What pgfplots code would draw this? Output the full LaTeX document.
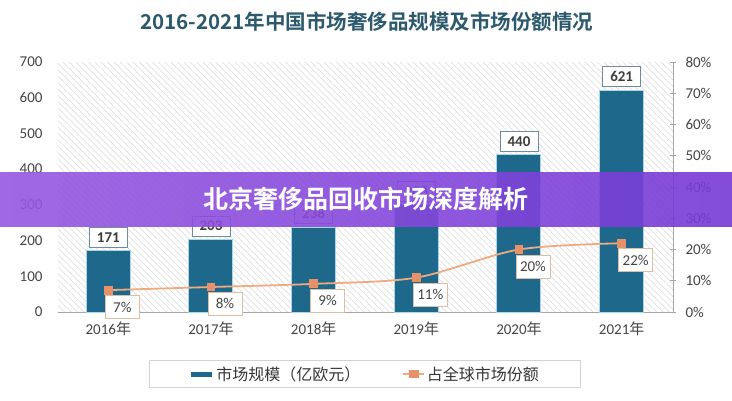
\documentclass[border=0pt]{standalone}
\usepackage{fontspec}
\setmainfont{Carlito}
\newfontfamily\cjk{Noto Sans CJK SC}
\newfontfamily\cjkb{Noto Sans CJK SC Bold}
\usepackage{pgfplots}
\pgfplotsset{compat=1.18}
\usetikzlibrary{patterns.meta}
\definecolor{barblue}{RGB}{30,104,140}
\definecolor{baredge}{RGB}{170,215,235}
\definecolor{lineor}{RGB}{240,170,128}
\definecolor{markor}{RGB}{230,145,105}
\definecolor{titlec}{RGB}{44,90,108}
\definecolor{txt}{RGB}{68,68,68}
\definecolor{boxblue}{RGB}{110,140,155}
\definecolor{boxor}{RGB}{220,190,165}
\begin{document}
\begin{tikzpicture}
\path[use as bounding box] (0,0) rectangle (732pt,400pt);
\begin{axis}[
    at={(58pt,88pt)}, anchor=south west,
    scale only axis, width=615pt, height=250pt,
    ybar, bar width=44pt,
    xmin=-0.49, xmax=5.5,
    ymin=0, ymax=700, ytick={0,100,...,700},
    xtick={0,...,5},
    xticklabels={2016{\cjk 年},2017{\cjk 年},2018{\cjk 年},2019{\cjk 年},2020{\cjk 年},2021{\cjk 年}},
    axis x line*=bottom, axis y line*=left,
    y axis line style={draw=none},
    x axis line style={gray!70, line width=0.8pt, -},
    major tick length=0pt,
    tick label style={font=\fontsize{15}{18}\selectfont, text=txt},
    yticklabel style={xshift=-12pt},
    xticklabel style={yshift=-6pt},
    /pgf/number format/assume math mode=true,
    axis background/.style={pattern={Lines[angle=-45,distance=4.5pt,line width=0.7pt]}, pattern color=gray!25},
    nodes near coords,
    every node near coord/.append style={font=\fontsize{15}{18}\selectfont\bfseries, text=txt!90!black,
        fill=white, draw=boxblue, line width=0.8pt, inner sep=2pt, minimum width=38pt, minimum height=20pt,
        anchor=south, yshift=3pt},
]
\addplot[fill=barblue, draw=baredge, line width=1pt] coordinates {(0,171) (1,203) (2,238) (3,300) (4,440) (5,621)};
\end{axis}
\begin{axis}[
    at={(58pt,88pt)}, anchor=south west,
    scale only axis, width=615pt, height=250pt,
    xmin=-0.49, xmax=5.5,
    ymin=0, ymax=80, ytick={0,10,...,80},
    axis y line*=right, axis x line=none,
    y axis line style={gray!70, line width=0.8pt, -},
    ytick style={gray!70, line width=0.8pt},
    major tick length=6pt, tick align=center,
    yticklabel={\pgfmathprintnumber{\tick}\%},
    tick label style={font=\fontsize{15}{18}\selectfont, text=txt},
    yticklabel style={xshift=6pt},
    /pgf/number format/assume math mode=true,
    nodes near coords={\pgfmathprintnumber{\pgfplotspointmeta}\%},
    every node near coord/.append style={font=\fontsize{15}{18}\selectfont, text=txt,
        fill=white, draw=boxor, line width=0.8pt, inner sep=2pt, minimum width=34pt, minimum height=23pt,
        anchor=north, xshift=14pt, yshift=-5pt},
    legend style={at={(0.499,-0.248)}, anchor=center, draw=gray!35, line width=0.6pt,
        font=\fontsize{16}{19}\selectfont\cjk, text=txt!80!black, inner xsep=40pt, inner ysep=4pt},
    legend columns=2,
    legend cell align=left,
    legend image post style={xscale=1.2},
    /tikz/every even column/.append style={column sep=40pt},
]
\addlegendimage{line width=5pt, color=barblue}
\addlegendentry{市场规模（亿欧元）}
\addplot[color=lineor, line width=1.8pt, smooth, mark=square*, mark size=3.5pt,
    mark options={fill=markor, draw=markor}] coordinates {(0,7) (1,8) (2,9) (3,11) (4,20) (5,22)};
\addlegendentry{占全球市场份额}
\end{axis}
\node[font=\fontsize{20.5}{24}\selectfont\cjkb, text=titlec] at (367pt,378pt) {2016-2021年中国市场奢侈品规模及市场份额情况};
\shade[left color={rgb,255:red,150;green,88;blue,225}, right color={rgb,255:red,118;green,58;blue,214}, opacity=0.9]
    (0,174pt) rectangle (732pt,228pt);
\node[font=\fontsize{25}{29}\selectfont\cjkb, text=white] at (366pt,201pt) {北京奢侈品回收市场深度解析};
\end{tikzpicture}
\end{document}
